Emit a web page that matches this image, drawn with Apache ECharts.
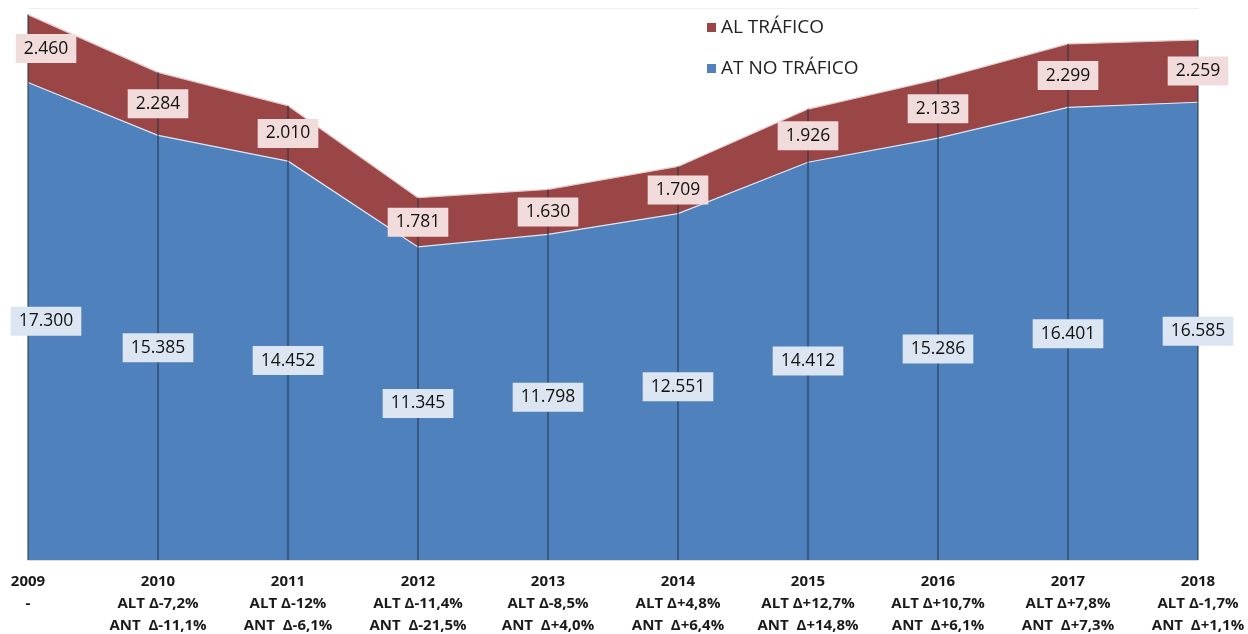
<!DOCTYPE html>
<html>
<head>
<meta charset="utf-8">
<script src="https://cdn.jsdelivr.net/npm/echarts@6/dist/echarts.min.js"></script>
<style>
  html, body { margin: 0; padding: 0; background: #fff; }
  #chart { width: 1248px; height: 634px; }
</style>
</head>
<body>
<div id="chart"></div>
<script>
// años y variaciones (etiquetas del eje x)
const years = ['2009', '2010', '2011', '2012', '2013', '2014', '2015', '2016', '2017', '2018']
const altDelta = ['', 'ALT Δ-7,2%', 'ALT Δ-12%', 'ALT Δ-11,4%', 'ALT Δ-8,5%', 'ALT Δ+4,8%', 'ALT Δ+12,7%', 'ALT Δ+10,7%', 'ALT Δ+7,8%', 'ALT Δ-1,7%']
const antDelta = ['', 'ANT  Δ-11,1%', 'ANT  Δ-6,1%', 'ANT  Δ-21,5%', 'ANT  Δ+4,0%', 'ANT  Δ+6,4%', 'ANT  Δ+14,8%', 'ANT  Δ+6,1%', 'ANT  Δ+7,3%', 'ANT  Δ+1,1%']

// series
const noTrafico = [17300, 15385, 14452, 11345, 11798, 12551, 14412, 15286, 16401, 16585]
const alTrafico = [2460, 2284, 2010, 1781, 1630, 1709, 1926, 2133, 2299, 2259]

const RED = '#9a4647'
const BLUE = '#4f81bd'

function fmtMiles(v) {
  return String(v).replace(/\B(?=(\d{3})+(?!\d))/g, '.')
}

const totals = noTrafico.map((v, i) => v + alTrafico[i])

// puntos medios de cada banda para las etiquetas
function midPoints(vals, base) {
  return vals.map((v, i) => {
    const item = { value: [years[i], base[i] + v / 2], raw: v }
    if (i === 0) item.label = { offset: [18, 0] }
    return item
  })
}
const zeros = years.map(() => 0)
const blueMid = midPoints(noTrafico, zeros)
const redMid = midPoints(alTrafico, noTrafico)

function labelSeries(data, bg) {
  return {
    type: 'scatter',
    data: data,
    symbolSize: 0,
    z: 10,
    silent: true,
    itemStyle: { opacity: 1 },
    label: {
      show: true,
      position: 'inside',
      formatter: p => fmtMiles(p.data.raw),
      fontFamily: 'Open Sans',
      fontSize: 17.5,
      color: '#111',
      backgroundColor: bg,
      padding: [6, 8, 5, 8]
    }
  }
}

const chart = echarts.init(document.getElementById('chart'))
const option = {
  animation: false,
  grid: { left: 28, right: 50, top: 8, bottom: 74, outerBoundsMode: 'none', containLabel: false },
  legend: {
    data: ['AL TRÁFICO', 'AT NO TRÁFICO'],
    orient: 'vertical',
    left: 702,
    top: 13,
    itemWidth: 9,
    itemHeight: 9,
    itemGap: 22,
    icon: 'rect',
    textStyle: { fontFamily: 'Open Sans', fontSize: 19, color: '#222' }
  },
  xAxis: {
    type: 'category',
    data: years,
    boundaryGap: false,
    axisLine: { lineStyle: { color: '#d9d9d9', width: 1 } },
    axisTick: { show: false },
    axisLabel: {
      interval: 0,
      margin: 11,
      fontFamily: 'Open Sans',
      fontWeight: 'bold',
      fontSize: 15,
      lineHeight: 22,
      color: '#1a1a1a',
      formatter: (v, i) => i === 0 ? v + '\n-' : v + '\n' + altDelta[i] + '\n' + antDelta[i]
    }
  },
  yAxis: {
    type: 'value',
    min: 0,
    max: 20000,
    interval: 20000,
    axisLine: { show: false },
    axisTick: { show: false },
    axisLabel: { show: false },
    splitLine: { lineStyle: { color: '#eeeeee' } }
  },
  series: [
    {
      name: 'AT NO TRÁFICO',
      type: 'line',
      stack: 'total',
      data: noTrafico,
      symbol: 'none',
      z: 2,
      color: BLUE,
      lineStyle: { color: '#dbe6f3', width: 1.2 },
      areaStyle: { color: BLUE, opacity: 1 }
    },
    {
      name: 'AL TRÁFICO',
      type: 'line',
      stack: 'total',
      data: alTrafico,
      symbol: 'none',
      z: 2,
      color: RED,
      lineStyle: { color: '#e8c9c9', width: 1.2 },
      areaStyle: { color: RED, opacity: 1 }
    },
    {
      // líneas de unión verticales
      name: 'drop',
      type: 'bar',
      data: totals,
      barWidth: 1,
      z: 3,
      silent: true,
      itemStyle: { color: '#223344' }
    },
    labelSeries(blueMid, '#dce6f2'),
    labelSeries(redMid, '#f2dcdb')
  ]
}
chart.setOption(option)
</script>
</body>
</html>
